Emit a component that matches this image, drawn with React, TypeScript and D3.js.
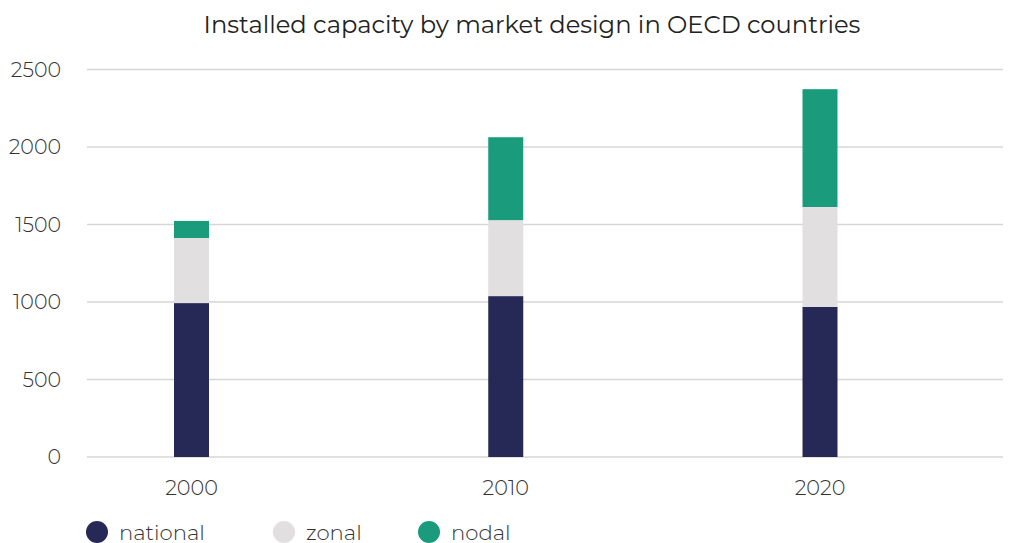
import React from "react";
import * as d3 from "d3";

const years = ["2000", "2010", "2020"];
const national = [993, 1038, 968];
const zonal = [420, 490, 645];
const nodal = [110, 535, 760];
const seriesNames = ["national", "zonal", "nodal"];
const seriesColors = ["#262955", "#e1dfe0", "#1a9b7b"];
const yTicks = [0, 500, 1000, 1500, 2000, 2500];
const title = "Installed capacity by market design in OECD countries";

const W = 1017;
const H = 543;
const plotLeft = 87;
const plotRight = 1003;
const font = "Montserrat, 'Open Sans', Lato, sans-serif";

export default function App() {
  const y = d3.scaleLinear().domain([0, 2500]).range([457, 69.5]);
  const x = d3.scalePoint<string>().domain(years).range([191.5, 820]);
  const barW = 35;
  const rows = years.map((yr, i) => ({ year: yr, national: national[i], zonal: zonal[i], nodal: nodal[i] }));
  const stack = d3.stack<any>().keys(seriesNames)(rows);

  return (
    <svg width={W} height={H} style={{ position: "absolute", left: 0, top: 0 }} fontFamily={font}>
      <text x={532} y={33} textAnchor="middle" fontSize={24.2} fill="#222">{title}</text>
      {yTicks.map((t) => (
        <g key={t}>
          <line x1={plotLeft} x2={plotRight} y1={y(t)} y2={y(t)} stroke="#d6d6d6" strokeWidth={1.3} />
          <text x={61} y={y(t) + 7} textAnchor="end" fontSize={20.6} fill="#333" fontWeight={300}>{t}</text>
        </g>
      ))}
      {stack.map((s, si) => (
        <g key={seriesNames[si]} fill={seriesColors[si]}>
          {s.map((d, i) => (
            <rect key={i} x={(x(years[i]) as number) - barW / 2} width={barW} y={y(d[1])} height={y(d[0]) - y(d[1])} />
          ))}
        </g>
      ))}
      {years.map((yr) => (
        <text key={yr} x={x(yr)} y={495} textAnchor="middle" fontSize={20.8} fill="#333" fontWeight={300}>{yr}</text>
      ))}
      {seriesNames.map((n, i) => {
        const lx = [97, 284, 429][i];
        return (
          <g key={n}>
            <circle cx={lx} cy={532} r={11} fill={seriesColors[i]} />
            <text x={lx + 22} y={539.5} fontSize={21.2} fill="#333" fontWeight={300}>{n}</text>
          </g>
        );
      })}
    </svg>
  );
}
